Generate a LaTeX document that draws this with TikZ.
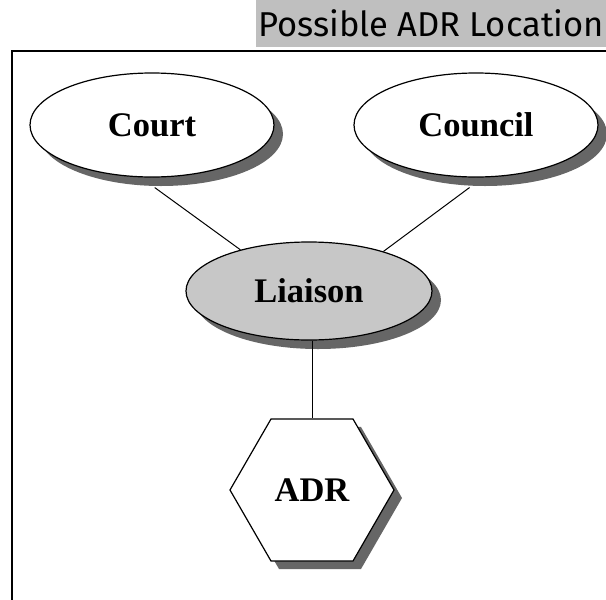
\documentclass[tikz,border=0pt]{standalone}
\usepackage{fontspec}
\setmainfont{Liberation Serif}
\newfontfamily\titlefont{Fira Sans}
\usetikzlibrary{shapes.geometric,shadows}
\tikzset{
  entity/.style={ellipse, draw=black, line width=1.2pt, minimum width=244pt, minimum height=104pt, inner sep=0pt,
    font=\fontsize{34.5}{38}\selectfont\bfseries,
    drop shadow={shadow xshift=9pt, shadow yshift=-9pt, fill=black!60, opacity=1}},
  hexbox/.style={regular polygon, regular polygon sides=6, draw=black, line width=1.2pt, minimum size=164pt, inner sep=0pt,
    font=\fontsize{34.5}{38}\selectfont\bfseries, fill=white,
    drop shadow={shadow xshift=8pt, shadow yshift=-8pt, fill=black!60, opacity=1}},
  link/.style={draw=black, line width=1pt}
}
\begin{document}
\begin{tikzpicture}[x=1pt,y=-1pt]
\useasboundingbox (0,0) rectangle (606,600);
\fill[white] (0,0) rectangle (606,600);
% title band
\fill[black!25] (256,0) rectangle (606,47);
\node[font=\titlefont\fontsize{34.5}{38}\selectfont, anchor=center] (title) at (431,23) {Possible ADR Location};
% frame
\draw[line width=1.8pt] (12,600) -- (12,51) -- (606,51);
\coordinate (courtc) at (152,125);
\coordinate (councilc) at (476,125);
\coordinate (liaisonc) at (309,291);
\coordinate (adrc) at (312,490);
% nodes
\node[entity, fill=white] (court) at (courtc) {Court};
\node[entity, fill=white] (council) at (councilc) {Council};
\node[entity, fill=black!22, minimum width=246pt, minimum height=98pt] (liaison) at (liaisonc) {Liaison};
\node[hexbox] (adr) at (adrc) {ADR};
% connectors
\path[link] (court.-87) ++(0,10) -- (liaison.149);
\path[link] (council.-97) ++(0,10) -- (liaison.28);
\path[link] (liaison.south -| adr.north) -- (adr.north);
\end{tikzpicture}
\end{document}
